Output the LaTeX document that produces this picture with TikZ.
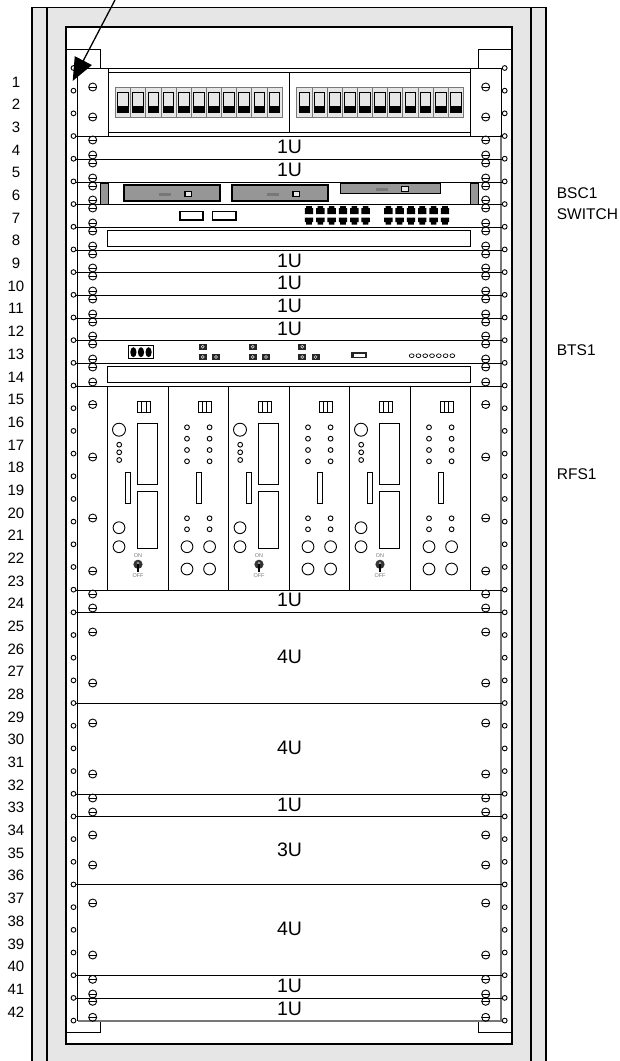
\documentclass[tikz,border=0pt]{standalone}
\usepackage{fontspec}
\setmainfont{Liberation Sans}
\usetikzlibrary{arrows.meta}
\definecolor{rack_gray}{RGB}{230, 230, 230}
\definecolor{bar_gray}{RGB}{150, 150, 150}
\definecolor{rail_gray}{RGB}{120, 120, 120}
\tikzstyle{frame}=[draw=black,line width=1.4pt]
\tikzstyle{thin}=[draw=black,line width=0.9pt]
\tikzstyle{rail}=[draw=rail_gray,line width=1.3pt]
\tikzstyle{divide}=[draw=black,line width=1pt]
\tikzstyle{num}=[font=\fontsize{15}{18}\selectfont,inner sep=0pt]
\tikzstyle{ulabel}=[font=\fontsize{19.5}{22}\selectfont,inner sep=0pt]
\tikzstyle{tiny}=[font=\fontsize{5.5}{6}\selectfont,text=rail_gray,inner sep=0pt]
\tikzstyle{tag}=[font=\fontsize{15.5}{18}\selectfont,anchor=west,inner sep=0pt]
\newcommand{\screw}[2]{
  \draw [thin] (#1,#2) circle (4);
  \draw [thin] (#1-4,#2) -- (#1+4,#2);
}
\newcommand{\screwpair}[1]{
  \screw{92.7}{#1}
  \screw{485.7}{#1}
}
\newcommand{\led}[2]{\draw [thin] (#1,#2) circle (2.4);}
\newcommand{\breakerbank}[1]{
  \foreach \k in {0,...,10} {
    \draw [draw=rail_gray,fill=rack_gray,line width=0.8pt] ({#1+15.14*\k},87.3) rectangle +(15.14,30.3);
    \draw [thin,fill=rack_gray] ({#1+15.14*\k+2.2},92) rectangle +(10.8,20.5);
    \fill [black] ({#1+15.14*\k+2.2},105.5) rectangle +(10.8,7);
  }
}
\newcommand{\plugbox}[1]{
  \draw [thin] (#1+30,401) rectangle +(13,11.7);
  \draw [thin] (#1+34.2,401) -- (#1+34.2,412.7);
  \draw [thin] (#1+38.6,401) -- (#1+38.6,412.7);
}
\newcommand{\slimbar}[1]{\draw [thin] (#1,472.7) rectangle +(5,30.6);}
\newcommand{\slota}[2]{
  \plugbox{#2}
  \draw [thin] (#2+11.3,429.7) circle (6.5);
  \foreach \y in {444.7,452.3,460} {\led{#2+11.5}{\y}}
  \draw [thin] (#2+30,423.3) rectangle +(20,60.7);
  \draw [thin] (#2+30,491.7) rectangle +(20,56.6);
  \slimbar{#2+18}
  \draw [thin] (#2+11.3,527.7) circle (5.9);
  \draw [thin] (#2+11.3,546.7) circle (5.9);
  \node [style=tiny] (on#1) at (#2+30.3,555.2) {ON};
  \node [style=tiny] (off#1) at (#2+30.3,575.2) {OFF};
  \fill [black!80] (#2+30.3,564.3) circle (4.6);
  \fill [bar_gray] (#2+30.3,563) circle (1.5);
  \draw [black,line width=1.3pt] (#2+30.3,564.3) -- (#2+30.3,571.5);
}
\newcommand{\slotb}[1]{
  \plugbox{#1}
  \foreach \x in {18.8,41.4} {
    \foreach \y in {427.3,438.7,450,461.3,518.3,529.3} {\led{#1+\x}{\y}}
    \draw [thin] (#1+\x,546.7) circle (5.9);
    \draw [thin] (#1+\x,569) circle (5.9);
  }
  \slimbar{#1+28}
}
\newcommand{\drive}[5]{
  \draw [draw=black,fill=bar_gray,line width=1.2pt] (#1,#3) rectangle (#2,#4);
  \fill [rail_gray] (#1+35,#5-1.5) rectangle +(12,3);
  \draw [draw=black,fill=rack_gray,line width=1.3pt] (#1+61,#5-2.2) rectangle +(6.5,4.4);
}
\newcommand{\rjtop}[1]{\fill [black] (#1-2.8,206) -- (#1+2.8,206) -- (#1+2.8,208) -- (#1+4.2,208) -- (#1+4.2,214) -- (#1-4.2,214) -- (#1-4.2,208) -- (#1-2.8,208) -- cycle;}
\newcommand{\rjbot}[1]{\fill [black] (#1-4.2,217.5) -- (#1+4.2,217.5) -- (#1+4.2,222) -- (#1+2.8,222) -- (#1+2.8,224.5) -- (#1-2.8,224.5) -- (#1-2.8,222) -- (#1-4.2,222) -- cycle;}
\newcommand{\fibre}[2]{
  \fill [black!85] (#1-4,#2-3.2) rectangle +(8,6.4);
  \draw [draw=rack_gray,line width=0.5pt] (#1,#2) circle (1.5);
}
\begin{document}
\begin{tikzpicture}[x=1pt,y=-1pt]
  \useasboundingbox (0,0) rectangle (620,1061);
  % cabinet
  \fill [rack_gray] (32,7.5) rectangle (546,1061);
  \fill [white] (66,27) rectangle (512,1044);
  \draw [style=frame] (32,1061) -- (32,7.5) -- (546,7.5) -- (546,1061);
  \draw [style=frame] (47,7.5) -- (47,1061);
  \draw [style=frame] (531,7.5) -- (531,1061);
  \draw [style=frame] (66,27) rectangle (512,1044);
  % rails
  \draw [style=thin] (66,49.5) -- (100,49.5) -- (100,68);
  \draw [style=thin] (512,49.5) -- (478,49.5) -- (478,68);
  \draw [style=thin] (66,1032) -- (100,1032) -- (100,1021);
  \draw [style=thin] (512,1032) -- (478,1032) -- (478,1021);
  \draw [style=rail] (77.5,1021) -- (501,1021) -- (501,68);
  \draw [style=divide] (77.5,68) -- (77.5,1021);
  \foreach \i in {0,...,42} {
    \led{73.5}{68+22.68*\i}
    \led{504.7}{68+22.68*\i}
  }
  \foreach \i in {1,...,42} {
    \node [style=num] (row\i) at (16,{82+22.68*(\i-1)}) {\i};
  }
  % unit lines
  \foreach \y in {136,159,182,204,227,250,272,295,318,340,363,386,590,612,703,794,816,884,975,998} {
    \draw [style=divide] (75.7,\y) -- (502.5,\y);
  }
  % screws, top and bottom of each unit
  \foreach \y in {87,117,140,155,163,178,186,200,208,223,231,246,254,268,276,291,299,314,322,336,344,359,367,382,404.5,457,518,571,594,608,632,683,723,774,798,812,835,865,903,955,979.3,994,1001.3,1017.3} {
    \screwpair{\y}
  }
  % breaker panel
  \fill [white] (78,68.5) rectangle (500.5,135.3);
  \draw [style=thin] (77.5,68.5) rectangle (108,136);
  \draw [style=thin] (470.7,68.5) rectangle (501,136);
  \draw [style=thin] (108,72) -- (470.7,72);
  \draw [style=thin] (108,68.5) -- (470.7,68.5);
  \draw [style=thin] (108,132) -- (470.7,132);
  \draw [style=thin] (289,72) -- (289,132);
  \screwpair{87}
  \screwpair{117}
  \breakerbank{115.5}
  \breakerbank{296.8}
  % switch shelf
  \draw [draw=black,fill=bar_gray,line width=0.8pt] (100.3,183) rectangle (108,204);
  \draw [draw=black,fill=bar_gray,line width=0.8pt] (470.7,183) rectangle (478.3,204);
  \drive{124}{220}{185}{201}{194}
  \drive{232}{328}{185}{201}{194}
  \drive{340.7}{440.7}{183}{193.3}{189}
  \draw [draw=black,line width=1.1pt] (180,211.7) rectangle (203,220);
  \draw [draw=black,line width=1.1pt] (212.7,211.7) rectangle (236,220);
  \foreach \k in {0,...,5} {
    \rjtop{309+11.33*\k}
    \rjbot{309+11.33*\k}
    \rjtop{388.3+11.33*\k}
    \rjbot{388.3+11.33*\k}
  }
  % blank panels
  \draw [style=thin] (107.5,230.7) rectangle (470.7,246);
  \draw [style=thin] (107.5,366.7) rectangle (470.7,382.3);
  % bts shelf
  \draw [style=thin] (128.3,345.7) rectangle (153.3,358.7);
  \foreach \x in {133.4,141,148.6} {
    \fill [black] (\x,352.2) ellipse (3.1 and 5);
  }
  \foreach \x in {202.7,252.7,302.3} {
    \fibre{\x}{346.7}
    \fibre{\x}{357}
    \fibre{\x+13.3}{357}
  }
  \fill [black!85] (351.3,352.3) rectangle (366.7,358.3);
  \fill [white] (353.5,354) rectangle (364.5,356.6);
  \foreach \k in {0,...,6} {
    \draw [draw=black,line width=0.7pt] (411.7+6.77*\k,355.7) ellipse (2.4 and 1.9);
  }
  % rfs shelf
  \foreach \x in {107.7,168.2,228.7,289.2,349.7,410.2,470.7} {
    \draw [style=thin] (\x,386) -- (\x,590);
  }
  \slota{1}{107.7}
  \slotb{168.2}
  \slota{2}{228.7}
  \slotb{289.2}
  \slota{3}{349.7}
  \slotb{410.2}
  % unit labels
  \foreach \n/\y/\t in {a/146.7/1U,b/169.5/1U,c/260.5/1U,d/283/1U,e/306/1U,f/328.5/1U,g/600/1U,h/657/4U,j/748/4U,k/804.5/1U,m/850/3U,n/929/4U,p/986/1U,q/1009/1U} {
    \node [style=ulabel] (u\n) at (289.5,\y) {\t};
  }
  \node [style=tag] (bsc) at (556.7,193) {BSC1};
  \node [style=tag] (switch) at (556.7,214) {SWITCH};
  \node [style=tag] (bts) at (556.7,350) {BTS1};
  \node [style=tag] (rfs) at (556.7,474) {RFS1};
  % pointer
  \coordinate (from) at (115,0);
  \coordinate (tip) at (72.7,81);
  \draw [black,line width=1.3pt,-{Triangle[length=23pt,width=19pt]}] (from) -- (tip);
\end{tikzpicture}
\end{document}
